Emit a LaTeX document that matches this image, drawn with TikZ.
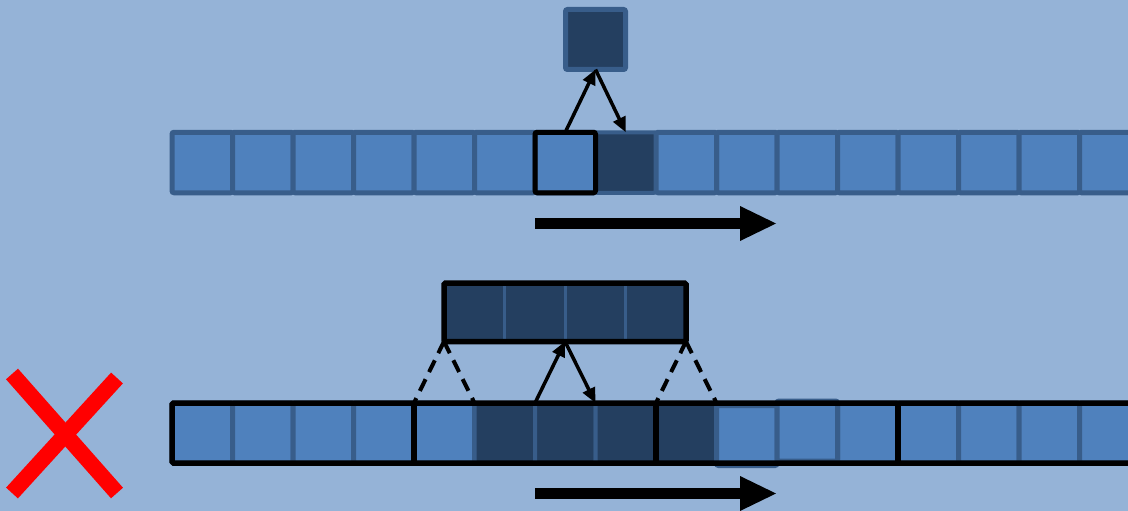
\documentclass[tikz,border=0pt]{standalone}
\usetikzlibrary{arrows.meta}
\definecolor{bg}{RGB}{149,179,215}
\definecolor{cellfill}{RGB}{79,129,189}
\definecolor{cellline}{RGB}{56,93,138}
\definecolor{darkfill}{RGB}{36,63,96}
\begin{document}
\begin{tikzpicture}[x=1pt,y=-1pt,
  cell/.style={draw=cellline, fill=cellfill, line width=5pt, rounded corners=2pt,
    minimum width=60.5pt, minimum height=60.5pt, inner sep=0pt, outer sep=0pt},
  dcell/.style={cell, fill=darkfill, line width=4pt},
  wcell/.style={cell, fill=darkfill, line width=3pt, rounded corners=0pt, minimum height=58.5pt},
  hl/.style={draw=black, line width=5pt, rounded corners=2pt},
  frame/.style={draw=black, line width=5.5pt, rounded corners=1.5pt},
  conn/.style={draw=black, line width=3.5pt, -{Triangle[length=15pt,width=13pt]}},
  dashconn/.style={draw=black, line width=4pt, dash pattern=on 13pt off 8pt},
  bigarrow/.style={draw=black, line width=11pt, -{Triangle[length=36pt,width=35pt,line width=0pt]}},
  cross/.style={draw=red, line width=16pt}]
\useasboundingbox (0,0) rectangle (1128,511);
\fill[bg] (0,0) rectangle (1128,511);
\clip (0,0) rectangle (1128,511);

% ---------- top row ----------
\foreach \k in {0,...,6,9,10,11,12,13,14,15}{
  \pgfmathsetmacro{\cx}{202.25+60.5*\k}
  \node[cell] (t\k) at (\cx,162.5) {};
}
\node[dcell] (t7) at ({202.25+60.5*7},162.5) {};
\node[cell] (t8) at ({202.25+60.5*8},162.5) {};
\draw[hl] (t6.north west) rectangle (t6.south east);

\node[dcell, line width=5pt, minimum size=60pt] (sq) at (595.5,39.5) {};

\draw[conn] (t6.north) -- (sq.south);
\draw[conn] (sq.south) -- (t7.north);

\coordinate (a1s) at (535,223.5);
\coordinate (a1e) at (776,223.5);
\draw[bigarrow] (a1s) -- (a1e);

% ---------- bottom row ----------
\foreach \k in {0,...,4,11,12,13,14,15}{
  \pgfmathsetmacro{\cx}{202.25+60.5*\k}
  \node[cell, minimum height=60pt] (b\k) at (\cx,433) {};
}
\foreach \k in {5,6,7,8}{
  \pgfmathsetmacro{\cx}{202.25+60.5*\k}
  \node[dcell, minimum height=60pt] (b\k) at (\cx,433) {};
}
\node[cell, minimum height=60pt] (b9) at ({202.25+60.5*9},435.5) {};
\node[cell, minimum height=60pt] (b10) at ({202.25+60.5*10},431) {};

% window box
\foreach \i in {0,...,3}{
  \pgfmathsetmacro{\cx}{474.25+60.5*\i}
  \node[wcell] (w\i) at (\cx,312.25) {};
}
\draw[frame] (w0.north west) rectangle (w3.south east);

\coordinate (wl) at (w0.south west);
\coordinate (wr) at (w3.south east);
\coordinate (wm) at (w1.south east);
\draw[dashconn] (wl) -- (b4.north west);
\draw[dashconn] (wl) -- (b4.north east);
\draw[dashconn] (wr) -- (b8.north west);
\draw[dashconn] (wr) -- (b8.north east);

\draw[frame] (b0.north west) rectangle (1145,463);
\draw[frame] (b4.north west) -- (b4.south west);
\draw[frame] (b8.north west) -- (b8.south west);
\draw[frame] (b12.north west) -- (b12.south west);

\draw[conn] (b5.north east) -- (wm);
\draw[conn] (wm) -- (b7.north west);

\coordinate (a2s) at (535,493.5);
\coordinate (a2e) at (776,493.5);
\draw[bigarrow] (a2s) -- (a2e);

% ---------- red cross ----------
\coordinate (x1a) at (12,374);
\coordinate (x1b) at (117,493);
\coordinate (x2a) at (117,378);
\coordinate (x2b) at (12,493);
\draw[cross] (x1a) -- (x1b);
\draw[cross] (x2a) -- (x2b);
\end{tikzpicture}
\end{document}
